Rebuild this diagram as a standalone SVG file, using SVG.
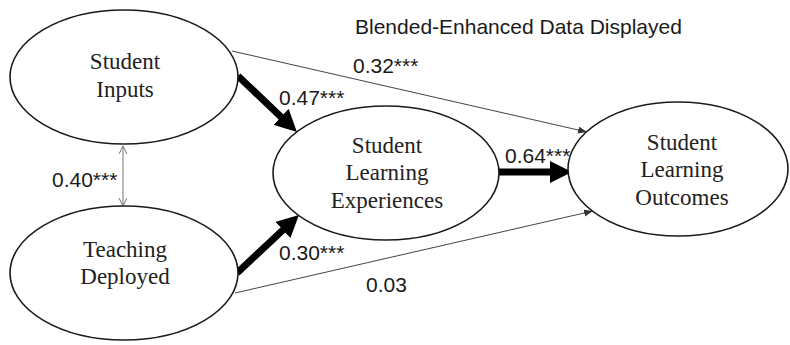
<svg xmlns="http://www.w3.org/2000/svg" width="790" height="345" viewBox="0 0 790 345">
  <style>
    .node ellipse { fill: #fff; stroke: #1a1a1a; stroke-width: 1.6; }
    .node text { font-family: "Liberation Serif", "Times New Roman", serif; font-size: 23px; fill: #222; text-anchor: middle; }
    .lbl { font-family: "Liberation Sans", Arial, sans-serif; font-size: 21px; fill: #1a1a1a; }
    .thick { stroke: #000; stroke-width: 7; fill: none; }
    .thin { stroke: #444; stroke-width: 1; fill: none; }
    .cov { stroke: #777; stroke-width: 1; fill: none; }
  </style>
  <defs>
    <marker id="headBig" markerUnits="userSpaceOnUse" markerWidth="22" markerHeight="22" refX="7" refY="11" orient="auto">
      <path d="M0,0 L22,11 L0,22 z" fill="#000"/>
    </marker>
    <marker id="headSmall" markerUnits="userSpaceOnUse" markerWidth="10" markerHeight="8" refX="9" refY="3.5" orient="auto">
      <path d="M0,0 L9,3.5 L0,7 z" fill="#333"/>
    </marker>
    <marker id="headOpen" markerUnits="userSpaceOnUse" markerWidth="10" markerHeight="10" refX="8" refY="4" orient="auto-start-reverse">
      <path d="M0,0 L8,4 L0,8" fill="none" stroke="#777" stroke-width="1"/>
    </marker>
  </defs>

  <rect width="790" height="345" fill="#fff"/>

  <text class="lbl" x="355" y="34">Blended-Enhanced Data Displayed</text>

  <!-- paths between constructs -->
  <g id="connectors">
    <line class="thin" x1="232" y1="51" x2="587" y2="132" marker-end="url(#headSmall)"/>
    <line class="thin" x1="235" y1="293" x2="593" y2="211" marker-end="url(#headSmall)"/>
    <line class="thick" x1="238" y1="76" x2="286.1" y2="121.7" marker-end="url(#headBig)"/>
    <line class="thick" x1="237" y1="273" x2="288" y2="225.2" marker-end="url(#headBig)"/>
    <line class="thick" x1="498" y1="172" x2="557" y2="172" marker-end="url(#headBig)"/>
    <line class="cov" x1="123" y1="146" x2="123" y2="206" marker-start="url(#headOpen)" marker-end="url(#headOpen)"/>
  </g>

  <g id="node-student-inputs" class="node">
    <ellipse cx="124" cy="77" rx="114" ry="67"/>
    <text x="125" y="69">Student</text>
    <text x="125" y="97">Inputs</text>
  </g>

  <g id="node-teaching-deployed" class="node">
    <ellipse cx="124" cy="273" rx="114" ry="67"/>
    <text x="125" y="257">Teaching</text>
    <text x="125" y="284">Deployed</text>
  </g>

  <g id="node-learning-experiences" class="node">
    <ellipse cx="386" cy="173" rx="113" ry="67"/>
    <text x="387" y="153">Student</text>
    <text x="387" y="180">Learning</text>
    <text x="387" y="208">Experiences</text>
  </g>

  <g id="node-learning-outcomes" class="node">
    <ellipse cx="678" cy="169" rx="110" ry="67"/>
    <text x="682" y="150">Student</text>
    <text x="682" y="177">Learning</text>
    <text x="682" y="205">Outcomes</text>
  </g>

  <g id="path-labels">
    <text class="lbl" x="353" y="73">0.32***</text>
    <text class="lbl" x="279" y="105">0.47***</text>
    <text class="lbl" x="279" y="260">0.30***</text>
    <text class="lbl" x="505" y="163">0.64***</text>
    <text class="lbl" x="366" y="292">0.03</text>
    <text class="lbl" x="52" y="187">0.40***</text>
  </g>
</svg>
